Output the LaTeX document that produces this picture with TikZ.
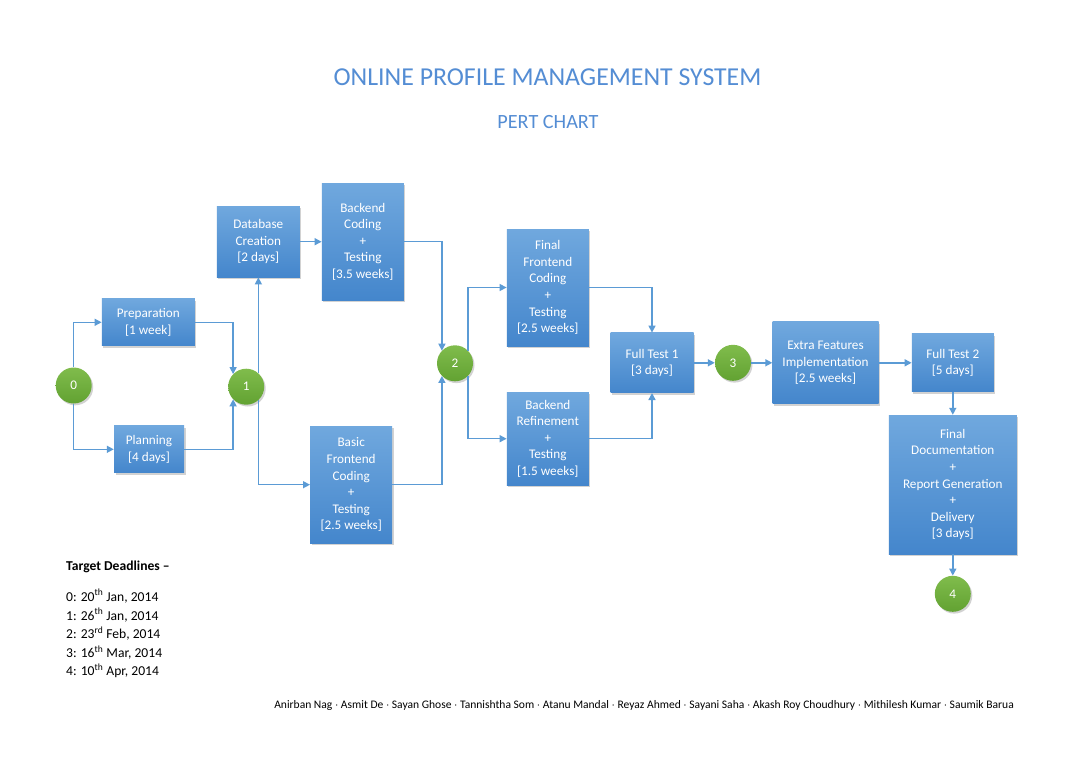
\documentclass[tikz,border=0pt]{standalone}
\usepackage{fontspec}
\setmainfont{Carlito}
\usetikzlibrary{shadows,arrows.meta}
\definecolor{boxtop}{RGB}{112,168,222}
\definecolor{boxbot}{RGB}{68,134,204}
\definecolor{linec}{RGB}{91,155,213}
\definecolor{gtop}{RGB}{128,188,76}
\definecolor{gbot}{RGB}{98,162,50}
\definecolor{titleblue}{RGB}{84,141,212}
\begin{document}
\begin{tikzpicture}[x=1pt,y=-1pt,
  task/.style={top color=boxtop, bottom color=boxbot, text=white, align=center,
    font=\fontsize{13.2}{16.6}\selectfont, inner sep=0pt,
    drop shadow={shadow xshift=1.5pt, shadow yshift=-1.8pt, opacity=0.35}},
  event/.style={circle, minimum size=36pt, inner sep=0pt, top color=gtop, bottom color=gbot,
    text=white, font=\fontsize{13.2}{16}\selectfont,
    drop shadow={shadow xshift=1.5pt, shadow yshift=-1.8pt, opacity=0.35}},
  conn/.style={draw=linec, line width=1.4pt, -{Triangle[length=7pt,width=7pt]}},
  note/.style={anchor=west, font=\fontsize{13.6}{16}\selectfont, inner sep=0pt}]
\useasboundingbox (0,0) rectangle (1081,763);
\fill[white] (0,0) rectangle (1081,763);

\node[text=titleblue, font=\fontsize{25.8}{30}\selectfont] (title) at (547.5,77) {ONLINE PROFILE MANAGEMENT SYSTEM};
\node[text=titleblue, font=\fontsize{20.2}{24}\selectfont] (subtitle) at (548,122) {PERT CHART};

\node[event] (e0) at (73.7,385.5) {0};
\node[event] (e1) at (246.2,386.7) {1};
\node[event] (e2) at (455,363.3) {2};
\node[event] (e3) at (733,362.8) {3};
\node[event] (e4) at (952.8,593.8) {4};

\node[task, minimum width=93pt, minimum height=47pt] (prep) at (148.3,322.3) {Preparation\\{[}1 week{]}};
\node[task, minimum width=70pt, minimum height=47pt] (plan) at (149,449.3) {Planning\\{[}4 days{]}};
\node[task, minimum width=83pt, minimum height=71pt] (db) at (258.3,241.7) {Database\\Creation\\{[}2 days{]}};
\node[task, minimum width=82pt, minimum height=117pt] (be) at (362.8,241.7) {Backend\\Coding\\+\\Testing\\{[}3.5 weeks{]}};
\node[task, minimum width=82pt, minimum height=117pt] (bf) at (351.2,484.7) {Basic\\Frontend\\Coding\\+\\Testing\\{[}2.5 weeks{]}};
\node[task, minimum width=82pt, minimum height=117pt] (ff) at (547.8,287.5) {Final\\Frontend\\Coding\\+\\Testing\\{[}2.5 weeks{]}};
\node[task, minimum width=82pt, minimum height=93pt] (br) at (547.8,438.7) {Backend\\Refinement\\+\\Testing\\{[}1.5 weeks{]}};
\node[task, minimum width=83pt, minimum height=60pt] (ft1) at (652,362.8) {Full Test 1\\{[}3 days{]}};
\node[task, minimum width=106pt, minimum height=82pt] (ex) at (825.5,362.8) {Extra Features\\Implementation\\{[}2.5 weeks{]}};
\node[task, minimum width=82pt, minimum height=58pt] (ft2) at (952.8,362.8) {Full Test 2\\{[}5 days{]}};
\node[task, minimum width=128pt, minimum height=139pt] (fd) at (952.8,484.5) {Final\\Documentation\\+\\Report Generation\\+\\Delivery\\{[}3 days{]}};

\draw[conn] (e0.north) |- (prep.west);
\draw[conn] (e0.south) |- (plan.west);
\draw[conn] (prep.east) -| (e1.136);
\draw[conn] (plan.east) -| (e1.224);
\draw[conn] (e1.48) -- (e1.48 |- db.south);
\draw[conn] (e1.-48) |- (bf.west);
\draw[conn] (db.east) -- (db.east -| be.west);
\draw[conn] (be.east) -| (e2.136);
\draw[conn] (bf.east) -| (e2.224);
\draw[conn] (e2.44) |- (ff.west);
\draw[conn] (e2.-44) |- (br.west);
\draw[conn] (ff.east) -| (ft1.north);
\draw[conn] (br.east) -| (ft1.south);
\draw[conn] (ft1.east) -- (e3.west);
\draw[conn] (e3.east) -- (ex.west);
\draw[conn] (ex.east) -- (ft2.west);
\draw[conn] (ft2.south) -- (fd.north);
\draw[conn] (fd.south) -- (e4.north);

\node[note, font=\fontsize{13.6}{16}\selectfont\bfseries] (dlh) at (66,567) {Target Deadlines --};
\node[note] (d0) at (66,596) {0: 20\textsuperscript{th} Jan, 2014};
\node[note] (d1) at (66,615) {1: 26\textsuperscript{th} Jan, 2014};
\node[note] (d2) at (66,633.5) {2: 23\textsuperscript{rd} Feb, 2014};
\node[note] (d3) at (66,652.5) {3: 16\textsuperscript{th} Mar, 2014};
\node[note] (d4) at (66,671) {4: 10\textsuperscript{th} Apr, 2014};

\node[anchor=east, inner sep=0pt, font=\fontsize{11.55}{13}\selectfont] (authors) at (1014,705) {Anirban Nag $\cdot$ Asmit De $\cdot$ Sayan Ghose $\cdot$ Tannishtha Som $\cdot$ Atanu Mandal $\cdot$ Reyaz Ahmed $\cdot$ Sayani Saha $\cdot$ Akash Roy Choudhury $\cdot$ Mithilesh Kumar $\cdot$ Saumik Barua};
\end{tikzpicture}
\end{document}
